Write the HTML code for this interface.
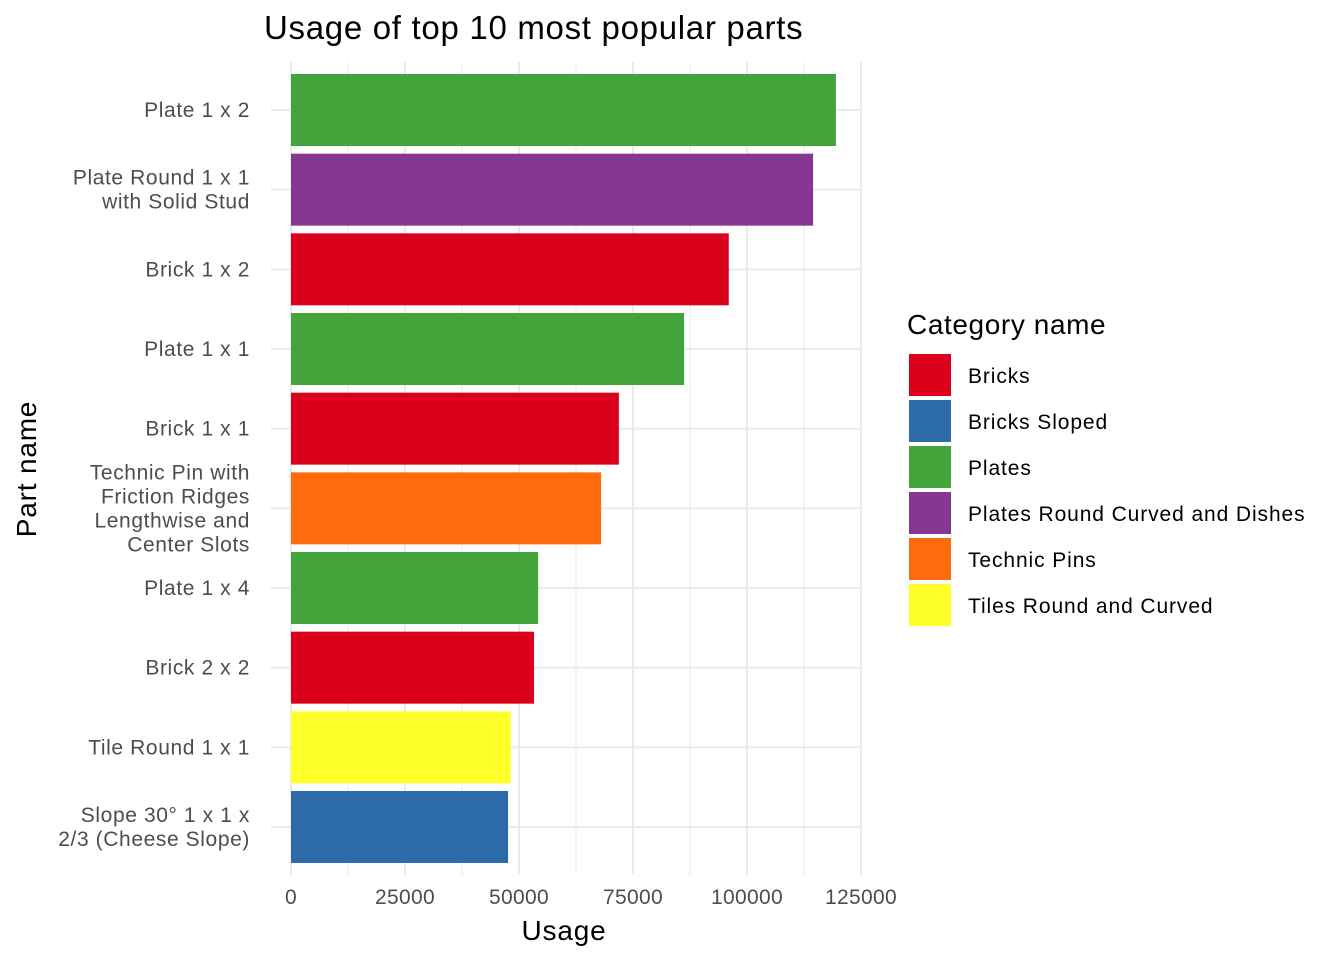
<!DOCTYPE html>
<html><head><meta charset="utf-8"><style>
body{margin:0;background:#fff;font-family:"Liberation Sans",Arial,sans-serif}
</style></head><body>
<svg id="chart" width="1344" height="960" xmlns="http://www.w3.org/2000/svg" font-family="Liberation Sans, Arial, sans-serif"></svg>
<script>
const parts=[["Plate 1 x 2"],["Plate Round 1 x 1","with Solid Stud"],["Brick 1 x 2"],["Plate 1 x 1"],["Brick 1 x 1"],["Technic Pin with","Friction Ridges","Lengthwise and","Center Slots"],["Plate 1 x 4"],["Brick 2 x 2"],["Tile Round 1 x 1"],["Slope 30° 1 x 1 x","2/3 (Cheese Slope)"]];
const usage=[119500,114500,96000,86200,71900,68000,54200,53300,48200,47600];
const cats=["Plates","Plates Round Curved and Dishes","Bricks","Plates","Bricks","Technic Pins","Plates","Bricks","Tiles Round and Curved","Bricks Sloped"];
const legendCats=["Bricks","Bricks Sloped","Plates","Plates Round Curved and Dishes","Technic Pins","Tiles Round and Curved"];
const colors={"Bricks":"#DB001B","Bricks Sloped":"#2D6AA9","Plates":"#43A43C","Plates Round Curved and Dishes":"#84388F","Technic Pins":"#FF6A0C","Tiles Round and Curved":"#FFFF2A"};
const xTicks=[0,25000,50000,75000,100000,125000];
const svg=document.getElementById('chart');const NS="http://www.w3.org/2000/svg";
function mk(t,a,p){const e=document.createElementNS(NS,t);for(const k in a)e.setAttribute(k,a[k]);(p||svg).appendChild(e);return e;}
const x0=291,x1=861,plotTop=62,plotBot=875;
const X=v=>x0+(v/125000)*(x1-x0);
const step=(827-110)/9;const Y=i=>110+step*i;
const grid=mk('g',{});
for(let i=0;i<xTicks.length;i++){mk('line',{x1:X(xTicks[i]),x2:X(xTicks[i]),y1:plotTop,y2:plotBot,stroke:'#ebebeb','stroke-width':2},grid);
 if(i<xTicks.length-1){const m=(xTicks[i]+xTicks[i+1])/2;mk('line',{x1:X(m),x2:X(m),y1:plotTop,y2:plotBot,stroke:'#ebebeb','stroke-width':1},grid);}}
parts.forEach((p,i)=>mk('line',{x1:x0-20,x2:x1,y1:Y(i),y2:Y(i),stroke:'#ebebeb','stroke-width':2},grid));
parts.forEach((p,i)=>{
 const r=mk('rect',{x:X(0),y:Y(i)-36,width:X(usage[i])-X(0),height:72,fill:colors[cats[i]]});
 
 
 const t=mk('text',{x:250,'text-anchor':'end','font-size':21,'letter-spacing':0.6,fill:'#4d4d4d'});
 
 
 const n=p.length;p.forEach((l,j)=>{const s=mk('tspan',{x:250,y:Y(i)+7+(j-(n-1)/2)*24},t);s.textContent=l;});
});
xTicks.forEach(v=>{const t=mk('text',{x:X(v),y:904,'text-anchor':'middle','font-size':21,'letter-spacing':0.3,fill:'#4d4d4d'});t.textContent=v;
 
 });
let t=mk('text',{x:564,y:940,'text-anchor':'middle','font-size':28,'letter-spacing':0.8,fill:'#000'});t.textContent='Usage';


t=mk('text',{x:36,y:469,'text-anchor':'middle','font-size':28,'letter-spacing':0.8,fill:'#000',transform:'rotate(-90 36 469)'});t.textContent='Part name';


t=mk('text',{x:264,y:39,'font-size':33,'letter-spacing':0.7,fill:'#000'});t.textContent='Usage of top 10 most popular parts';


t=mk('text',{x:907,y:334,'font-size':28,'letter-spacing':0.6,fill:'#000'});t.textContent='Category name';


legendCats.forEach((c,i)=>{const g=mk('g',{});
 
 
 mk('rect',{x:909,y:354+i*46,width:42,height:42,fill:colors[c]},g);
 const s=mk('text',{x:968,y:383+i*46,'font-size':21,'letter-spacing':0.9,fill:'#000'},g);s.textContent=c;});
</script>
</body></html>
